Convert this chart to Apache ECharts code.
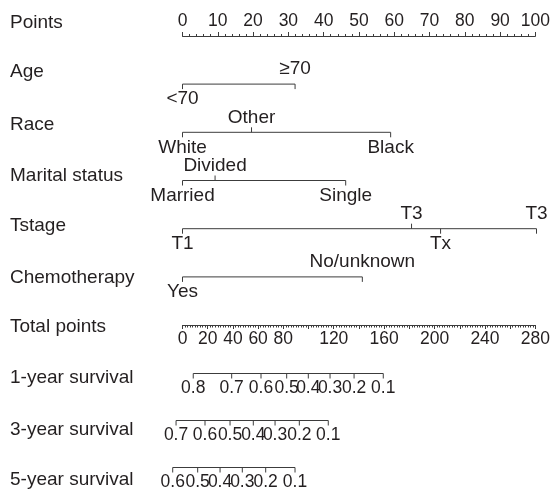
<!DOCTYPE html>
<html>
<head>
<meta charset="utf-8">
<script src="https://cdn.jsdelivr.net/npm/echarts@6.0.0/dist/echarts.min.js"></script>
<style>
  html, body { margin: 0; padding: 0; background: #fff; }
  #main { width: 553px; height: 492px; }
</style>
</head>
<body>
<div id="main"></div>
<script>
// row titles on the left
var rowNames = ['Points', 'Age', 'Race', 'Marital status', 'Tstage', 'Chemotherapy',
  'Total points', '1-year survival', '3-year survival', '5-year survival'];

// variables: level labels and their points (0-100)
var varNames = ['Age', 'Race', 'Marital status', 'Tstage', 'Chemotherapy'];
var ageLevels = ['<70', '≥70'];
var agePoints = [0, 31.8];
var raceLevels = ['White', 'Other', 'Black'];
var racePoints = [0, 19.5, 58.8];
var maritalLevels = ['Married', 'Divided', 'Single'];
var maritalPoints = [0, 9.2, 46.1];
var tstageLevels = ['T1', 'T3', 'Tx', 'T3'];
var tstagePoints = [0, 64.7, 72.9, 100];
var chemoLevels = ['Yes', 'No/unknown'];
var chemoPoints = [0, 50.8];

// total points axis labels that are printed
var totalShown = [0, 20, 40, 60, 80, 120, 160, 200, 240, 280];

// survival scales, positions in total points
var survNames = ['1-year', '3-year', '5-year'];
var surv1Labels = ['0.8', '0.7', '0.6', '0.5', '0.4', '0.3', '0.2', '0.1'];
var surv1Points = [8.5, 38.9, 62.1, 82.4, 99.5, 116.7, 135.7, 158.8];
var surv3Labels = ['0.7', '0.6', '0.5', '0.4', '0.3', '0.2', '0.1'];
var surv3Points = [-5.1, 17.8, 37.6, 56.0, 73.2, 92.4, 115.3];
var surv5Labels = ['0.6', '0.5', '0.4', '0.3', '0.2', '0.1'];
var surv5Points = [-7.75, 12.0, 29.7, 47.3, 65.8, 89.0];

var TXT = '#231f20';
var LINE = '#3c3c3c';
var FONT = 'Liberation Sans, Arial, sans-serif';

var variables = [
  [ageLevels, agePoints],
  [raceLevels, racePoints],
  [maritalLevels, maritalPoints],
  [tstageLevels, tstagePoints],
  [chemoLevels, chemoPoints]
];
var survivals = [
  [surv1Labels, surv1Points],
  [surv3Labels, surv3Points],
  [surv5Labels, surv5Points]
];

// build tick items: [x, row, label, side(1 above / -1 below), isEnd]
function buildItems(list, alternate) {
  var items = [];
  list.forEach(function (v, row) {
    var labels = v[0], pts = v[1];
    var order = pts.map(function (p, i) { return i; }).sort(function (a, b) { return pts[a] - pts[b]; });
    order.forEach(function (idx, k) {
      var side = alternate ? (k % 2 === 0 ? -1 : 1) : -1;
      var isEnd = (k === 0 || k === order.length - 1) ? 1 : 0;
      items.push([pts[idx], row, labels[idx], side, isEnd]);
    });
  });
  return items;
}

function buildLines(list, gridIdx, yIdx) {
  return list.map(function (v, row) {
    var pts = v[1];
    return {
      type: 'line',
      xAxisIndex: gridIdx,
      yAxisIndex: yIdx,
      data: [[Math.min.apply(null, pts), row], [Math.max.apply(null, pts), row]],
      symbol: 'none',
      clip: false,
      silent: true,
      lineStyle: { color: LINE, width: 1 }
    };
  });
}

function tickRenderer(fontSize, textOff, tickLen, alwaysDown) {
  return function (params, api) {
    var c = api.coord([api.value(0), api.value(1)]);
    var side = api.value(3);
    var isEnd = api.value(4);
    var dir = (alwaysDown || isEnd) ? 1 : -side; // screen y direction
    return {
      type: 'group',
      children: [
        {
          type: 'line',
          shape: { x1: c[0], y1: c[1], x2: c[0], y2: c[1] + dir * tickLen },
          style: { stroke: LINE, lineWidth: 1 }
        },
        {
          type: 'text',
          x: c[0],
          y: c[1] - side * textOff,
          style: {
            text: api.value(2),
            align: 'center',
            verticalAlign: 'middle',
            fontSize: fontSize,
            fontFamily: FONT,
            fill: TXT
          }
        }
      ]
    };
  };
}

var rowY = [23, 72, 125, 176, 226, 278, 327, 378, 430, 480];

var chart = echarts.init(document.getElementById('main'));
var option = {
  animation: false,
  backgroundColor: '#fff',
  graphic: rowNames.map(function (n, i) {
    return {
      type: 'text',
      x: 10,
      y: rowY[i],
      style: { text: n, fontSize: 19, fontFamily: FONT, fill: TXT, verticalAlign: 'middle' }
    };
  }),
  grid: [
    { left: 182.5, width: 354, top: 35, height: 1 },
    { left: 182.5, width: 354, top: 60, height: 241 },
    { left: 182.5, width: 354, top: 324, height: 1 },
    { left: 169.86, width: 366.64, top: 350, height: 141 }
  ],
  xAxis: [
    {
      gridIndex: 0, type: 'value', position: 'top', min: 0, max: 100, interval: 10,
      axisLine: { lineStyle: { color: LINE, width: 1 } },
      axisTick: { length: 4, lineStyle: { color: LINE } },
      minorTick: { show: true, splitNumber: 5, length: 2, lineStyle: { color: LINE } },
      axisLabel: { fontSize: 17.5, fontFamily: FONT, color: TXT, margin: 5 },
      splitLine: { show: false }
    },
    { gridIndex: 1, type: 'value', min: 0, max: 100, show: false },
    {
      gridIndex: 2, type: 'value', position: 'bottom', min: 0, max: 280, interval: 20,
      axisLine: { lineStyle: { color: LINE, width: 1 } },
      axisTick: { length: 4, lineStyle: { color: LINE } },
      minorTick: { show: true, splitNumber: 10, length: 2.5, lineStyle: { color: LINE } },
      axisLabel: {
        fontSize: 17.5, fontFamily: FONT, color: TXT, margin: 5,
        formatter: function (v) { return totalShown.indexOf(v) >= 0 ? String(v) : ''; }
      },
      splitLine: { show: false }
    },
    { gridIndex: 3, type: 'value', min: -10, max: 280, show: false }
  ],
  yAxis: [
    { gridIndex: 0, type: 'value', show: false },
    { gridIndex: 1, type: 'category', data: varNames, inverse: true, show: false },
    { gridIndex: 2, type: 'value', show: false },
    { gridIndex: 3, type: 'category', data: survNames, inverse: true, show: false }
  ],
  series: []
    .concat(buildLines(variables, 1, 1))
    .concat(buildLines(survivals, 3, 3))
    .concat([
      {
        type: 'custom',
        xAxisIndex: 1, yAxisIndex: 1,
        clip: false, silent: true,
        renderItem: tickRenderer(19, 15, 5, false),
        data: buildItems(variables, true)
      },
      {
        type: 'custom',
        xAxisIndex: 3, yAxisIndex: 3,
        clip: false, silent: true,
        renderItem: tickRenderer(17.5, 15, 5, true),
        data: buildItems(survivals, false)
      }
    ])
};
chart.setOption(option);
</script>
</body>
</html>
